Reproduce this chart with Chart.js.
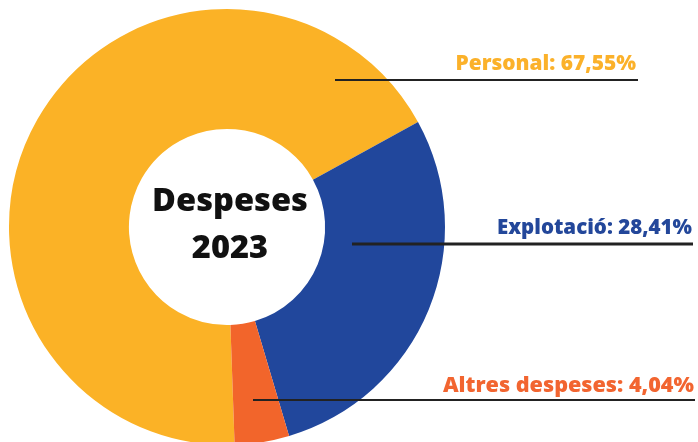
<!DOCTYPE html>
<html>
<head>
<meta charset="utf-8">
<script src="https://cdn.jsdelivr.net/npm/chart.js@4"></script>
<style>
  html, body { margin: 0; padding: 0; background: #fff; }
  #wrap { width: 698px; height: 442px; overflow: hidden; }
  #box { width: 698px; height: 464px; }
</style>
</head>
<body>
<div id="wrap"><div id="box"><canvas id="despeses"></canvas></div></div>
<script>
// dades
const labels = ['Personal', 'Explotació', 'Altres despeses'];
const values = [67.55, 28.41, 4.04];
const colors = ['#FBB226', '#21479C', '#F2652B'];
const textColors = ['#FBB12A', '#23479A', '#F26530'];

// posicio de cada etiqueta: text a la dreta, linia a sota
const callouts = [
  { text: [636, 70], w: 181, line: [335, 638, 80], width: 2 },
  { text: [692, 234], w: 195, line: [352, 693, 244], width: 3 },
  { text: [694, 392], w: 251, line: [253, 695, 400], width: 2 }
];

const fmt = v => v.toFixed(2).replace('.', ',') + '%';

// mida de font perque el text ocupi l'amplada donada
function fitFont(ctx, txt, w, weight, fam) {
  ctx.font = weight + ' 20px ' + fam;
  const s = 20 * w / ctx.measureText(txt).width;
  ctx.font = weight + ' ' + s.toFixed(1) + 'px ' + fam;
}

const labelPlugin = {
  id: 'labelPlugin',
  afterDraw(chart) {
    const ctx = chart.ctx;
    ctx.save();
    labels.forEach((l, i) => {
      const c = callouts[i];
      ctx.strokeStyle = '#222';
      ctx.lineWidth = c.width;
      ctx.beginPath();
      ctx.moveTo(c.line[0], c.line[2]);
      ctx.lineTo(c.line[1], c.line[2]);
      ctx.stroke();
      const txt = l + ': ' + fmt(values[i]);
      ctx.fillStyle = textColors[i];
      fitFont(ctx, txt, c.w, '800', '"Open Sans"');
      ctx.textAlign = 'right';
      ctx.textBaseline = 'alphabetic';
      ctx.fillText(txt, c.text[0], c.text[1]);
    });
    // text central
    const arc = chart.getDatasetMeta(0).data[0];
    ctx.fillStyle = '#111';
    fitFont(ctx, 'Despeses', 156, '800', '"Open Sans"');
    ctx.textAlign = 'center';
    ctx.textBaseline = 'middle';
    ctx.fillText('Despeses', arc.x + 3, 202);
    ctx.fillText('2023', arc.x + 3, 249);
    ctx.restore();
  }
};

new Chart(document.getElementById('despeses'), {
  type: 'doughnut',
  data: {
    labels: labels,
    datasets: [{
      data: values,
      backgroundColor: colors,
      borderWidth: 0
    }]
  },
  options: {
    responsive: true,
    maintainAspectRatio: false,
    animation: false,
    rotation: 178,
    cutout: '45%',
    layout: { padding: { top: 9, left: 9, right: 253, bottom: 19 } },
    plugins: {
      legend: { display: false },
      tooltip: { enabled: false }
    }
  },
  plugins: [labelPlugin]
});
</script>
</body>
</html>
